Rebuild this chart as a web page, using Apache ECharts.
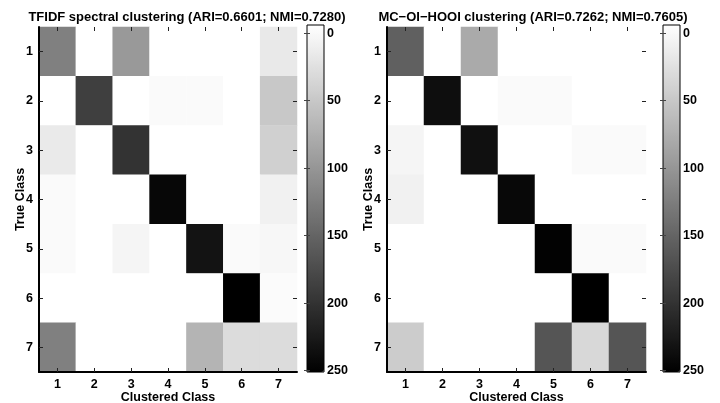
<!DOCTYPE html>
<html>
<head>
<meta charset="utf-8">
<script src="https://cdn.jsdelivr.net/npm/echarts@6/dist/echarts.min.js"></script>
<style>
html,body{margin:0;padding:0;background:#fff;}
#chart{width:720px;height:403px;}
</style>
</head>
<body>
<div id="chart"></div>
<script>
// ---- data ----
const classLabels = ['1', '2', '3', '4', '5', '6', '7'];
const leftTitle = 'TFIDF spectral clustering (ARI=0.6601; NMI=0.7280)';
const rightTitle = 'MC\u2212OI\u2212HOOI clustering (ARI=0.7262; NMI=0.7605)';
const xAxisTitle = 'Clustered Class';
const yAxisTitle = 'True Class';
// rows = true class 1..7, columns = clustered class 1..7
const tfidfRow1 = [125, 0, 100, 0, 0, 0, 22];
const tfidfRow2 = [0, 188, 0, 5, 5, 0, 54];
const tfidfRow3 = [21, 0, 200, 0, 0, 0, 46];
const tfidfRow4 = [5, 0, 0, 243, 0, 0, 14];
const tfidfRow5 = [5, 0, 10, 0, 231, 5, 8];
const tfidfRow6 = [0, 0, 0, 0, 0, 250, 4];
const tfidfRow7 = [125, 0, 0, 0, 74, 34, 34];
const hooiRow1 = [156, 0, 83, 0, 0, 0, 0];
const hooiRow2 = [0, 236, 0, 5, 5, 0, 0];
const hooiRow3 = [10, 0, 234, 0, 0, 5, 5];
const hooiRow4 = [14, 0, 0, 242, 0, 0, 0];
const hooiRow5 = [0, 0, 0, 0, 248, 5, 5];
const hooiRow6 = [0, 0, 0, 0, 0, 250, 0];
const hooiRow7 = [50, 0, 0, 0, 167, 38, 167];
const colorbarTicks = [0, 50, 100, 150, 200, 250];
const colorMin = 0;
const colorMax = 250;

const tfidfMatrix = [tfidfRow1, tfidfRow2, tfidfRow3, tfidfRow4, tfidfRow5, tfidfRow6, tfidfRow7];
const hooiMatrix = [hooiRow1, hooiRow2, hooiRow3, hooiRow4, hooiRow5, hooiRow6, hooiRow7];

function toCells(m) {
  const out = [];
  m.forEach((row, r) => row.forEach((v, c) => out.push([c, r, v])));
  return out;
}

const FONT = '"Liberation Sans", Arial, Helvetica, sans-serif';
const TXT = { fontFamily: FONT, fontWeight: 'bold', fontSize: 12.5, color: '#000' };

// layout
const plots = [
  { left: 39, top: 27, width: 258, height: 345, cbLeft: 307, titleX: 187, title: leftTitle, matrix: tfidfMatrix },
  { left: 387, top: 27, width: 259, height: 345, cbLeft: 663, titleX: 533, title: rightTitle, matrix: hooiMatrix }
];
const cbTop = 25, cbHeight = 347, cbWidth = 17;

const grid = [], xAxis = [], yAxis = [], series = [], visualMap = [], graphic = [];

plots.forEach((p, i) => {
  const gi = grid.length;
  grid.push({ left: p.left, top: p.top, width: p.width, height: p.height, containLabel: false, outerBoundsMode: 'none' });
  // bottom x axis
  xAxis.push({
    type: 'category', data: classLabels, gridIndex: gi, position: 'bottom',
    axisLine: { show: true, lineStyle: { color: '#000', width: 2 } },
    axisTick: { show: true, inside: true, alignWithLabel: true, length: 4, lineStyle: { color: '#222', width: 1 } },
    axisLabel: Object.assign({ margin: 6 }, TXT),
    name: xAxisTitle, nameLocation: 'middle', nameGap: 19, nameMoveOverlap: false,
    nameTextStyle: Object.assign({}, TXT),
    splitLine: { show: false }, z: 5
  });
  const xb = xAxis.length - 1;
  // top x axis (ticks only)
  xAxis.push({
    type: 'category', data: classLabels, gridIndex: gi, position: 'top',
    axisLine: { show: false },
    axisTick: { show: true, inside: true, alignWithLabel: true, length: 4, lineStyle: { color: '#222', width: 1 } },
    axisLabel: { show: false }, splitLine: { show: false }, z: 5
  });
  // left y axis
  yAxis.push({
    type: 'category', data: classLabels, gridIndex: gi, position: 'left', inverse: true,
    axisLine: { show: true, lineStyle: { color: '#000', width: 2 } },
    axisTick: { show: true, inside: true, alignWithLabel: true, length: 4, lineStyle: { color: '#222', width: 1 } },
    axisLabel: Object.assign({ margin: 6 }, TXT),
    name: yAxisTitle, nameLocation: 'middle', nameGap: 12, nameRotate: 90, nameMoveOverlap: false,
    nameTextStyle: Object.assign({}, TXT),
    splitLine: { show: false }, z: 5
  });
  const yl = yAxis.length - 1;
  // right y axis (ticks only)
  yAxis.push({
    type: 'category', data: classLabels, gridIndex: gi, position: 'right', inverse: true,
    axisLine: { show: false },
    axisTick: { show: true, inside: true, alignWithLabel: true, length: 4, lineStyle: { color: '#222', width: 1 } },
    axisLabel: { show: false }, splitLine: { show: false }, z: 5
  });
  series.push({
    type: 'heatmap', xAxisIndex: xb, yAxisIndex: yl,
    data: toCells(p.matrix),
    itemStyle: { borderWidth: 0 },
    emphasis: { disabled: true },
    progressive: 0, animation: false
  });
  visualMap.push({
    type: 'continuous', seriesIndex: series.length - 1,
    min: colorMin, max: colorMax, inverse: true, orient: 'vertical',
    calculable: false, realtime: false, padding: 0,
    left: p.cbLeft, top: cbTop, itemWidth: cbWidth, itemHeight: cbHeight,
    text: null, showLabel: false, hoverLink: false,
    inRange: { color: ['#ffffff', '#000000'] }
  });
  // colorbar frame + ticks + labels
  const cg = grid.length;
  grid.push({ left: p.cbLeft, top: cbTop, width: cbWidth, height: cbHeight, show: true, outerBoundsMode: 'none',
    borderColor: '#000', borderWidth: 1, backgroundColor: 'transparent', z: 10 });
  xAxis.push({ type: 'value', gridIndex: cg, show: false, min: 0, max: 1 });
  const cbAxisCommon = {
    type: 'value', gridIndex: cg, min: -6, max: 251, inverse: true, z: 10,
    axisLine: { show: false }, splitLine: { show: false }
  };
  yAxis.push(Object.assign({}, cbAxisCommon, {
    position: 'right',
    axisTick: { show: true, inside: true, length: 3, customValues: colorbarTicks, lineStyle: { color: '#444', width: 1 } },
    axisLabel: Object.assign({ margin: 3, customValues: colorbarTicks }, TXT)
  }));
  yAxis.push(Object.assign({}, cbAxisCommon, {
    position: 'left',
    axisTick: { show: true, inside: true, length: 3, customValues: colorbarTicks, lineStyle: { color: '#444', width: 1 } },
    axisLabel: { show: false }
  }));
  graphic.push({
    type: 'text', x: p.titleX, y: 17,
    style: { text: p.title, fontFamily: FONT, fontWeight: 'bold', fontSize: 13, fill: '#000', textAlign: 'center', textVerticalAlign: 'middle' }
  });
});

const chart = echarts.init(document.getElementById('chart'), null, { renderer: 'canvas' });
chart.setOption({
  animation: false,
  backgroundColor: '#ffffff',
  grid, xAxis, yAxis, series, visualMap, graphic
});
</script>
</body>
</html>
